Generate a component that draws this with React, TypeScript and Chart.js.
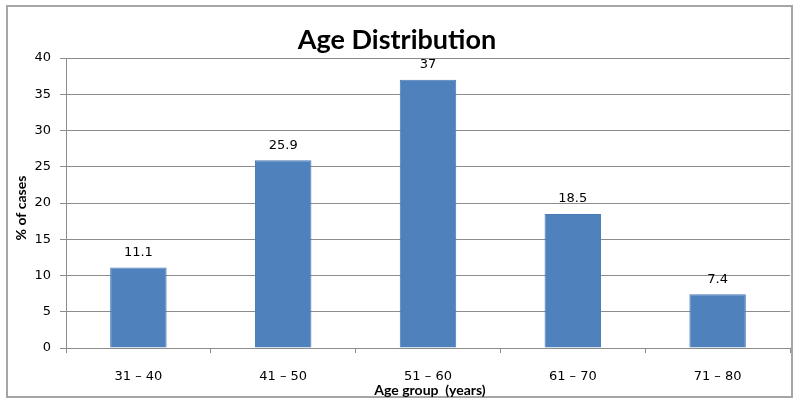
import React, { useEffect, useRef } from "react";
import { Chart, registerables } from "chart.js";

Chart.register(...registerables);

const categories = ["31 – 40", "41 – 50", "51 – 60", "61 – 70", "71 – 80"];
const percentValues = [11.1, 25.9, 37, 18.5, 7.4];
const valueLabels = ["11.1", "25.9", "37", "18.5", "7.4"];
const chartTitle = "Age Distribution";
const xTitle = "Age group  (years)";
const yTitle = "% of cases";

const tickFont = "DejaVu Sans";
const titleFont = "Lato";

const decorPlugin = {
  id: "decor",
  beforeDraw(chart: any) {
    const ctx = chart.ctx;
    ctx.save();
    ctx.fillStyle = "#ffffff";
    ctx.fillRect(0, 0, chart.width, chart.height);
    ctx.restore();
  },
  afterDraw(chart: any) {
    const ctx = chart.ctx;
    const area = chart.chartArea;
    ctx.save();
    // outer border
    ctx.strokeStyle = "#a6a6a6";
    ctx.lineWidth = 2;
    ctx.strokeRect(7, 6, 785, 391);
    // title
    ctx.fillStyle = "#000000";
    ctx.font = `bold 27px ${titleFont}`;
    ctx.textAlign = "center";
    ctx.textBaseline = "middle";
    ctx.fillText(chartTitle, (area.left + area.right) / 2 - 31, 40);
    // x title
    ctx.font = `bold 14px ${titleFont}`;
    ctx.fillText(xTitle, (area.left + area.right) / 2 + 2, 390);
    // y title
    ctx.save();
    ctx.translate(21, 208);
    ctx.rotate(-Math.PI / 2);
    ctx.fillText(yTitle, 0, 0);
    ctx.restore();
    // value labels
    ctx.font = `13px ${tickFont}`;
    ctx.fillStyle = "#000000";
    const meta = chart.getDatasetMeta(0);
    meta.data.forEach((bar: any, i: number) => {
      ctx.fillText(valueLabels[i], bar.x, bar.y - 15);
    });
    ctx.restore();
  },
};

export default function App() {
  const ref = useRef<HTMLCanvasElement>(null);
  useEffect(() => {
    if (!ref.current) return;
    const chart = new Chart(ref.current, {
      type: "bar",
      data: {
        labels: categories,
        datasets: [
          {
            data: percentValues,
            backgroundColor: "#4f81bd",
            borderColor: "#4a7ab3",
            borderWidth: 1,
            barPercentage: 0.39,
            categoryPercentage: 1,
          },
        ],
      },
      options: {
        animation: false,
        responsive: false,
        maintainAspectRatio: false,
        layout: { padding: { left: 0, top: 58, right: 10, bottom: 0 } },
        plugins: {
          legend: { display: false },
          title: { display: false },
          tooltip: { enabled: false },
        },
        scales: {
          x: {
            offset: true,
            grid: {
              offset: true,
              drawOnChartArea: false,
              drawTicks: true,
              tickLength: 5,
              color: "#8c8c8c",
            },
            border: { display: true, color: "#8c8c8c", width: 1 },
            ticks: {
              color: "#000000",
              font: { family: tickFont, size: 13 },
              padding: 16,
              maxRotation: 0,
            },
            afterFit(scale: any) {
              scale.height = 62;
            },
          },
          y: {
            min: 0,
            max: 40,
            grid: { color: "#8c8c8c", tickLength: 6 },
            border: { display: true, color: "#8c8c8c", width: 1 },
            ticks: {
              stepSize: 5,
              color: "#000000",
              font: { family: tickFont, size: 13 },
              padding: 9,
            },
            afterFit(scale: any) {
              scale.width = 66;
            },
          },
        },
      },
      plugins: [decorPlugin],
    });
    return () => chart.destroy();
  }, []);
  return (
    <div style={{ position: "fixed", left: 0, top: 0, width: 800, height: 410, background: "#fff" }}>
      <canvas ref={ref} width={800} height={410} style={{ width: 800, height: 410 }} />
    </div>
  );
}
